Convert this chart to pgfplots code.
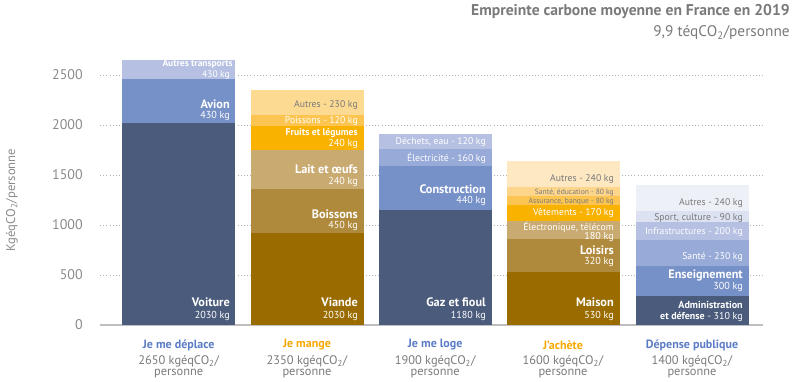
\documentclass[border=0pt]{standalone}
\usepackage{pgfplots}
\pgfplotsset{compat=1.18}
\usepackage{fontspec}
\setmainfont{PT Sans}
\definecolor{bA}{HTML}{4B5B7C}
\definecolor{bB}{HTML}{7690C8}
\definecolor{bC}{HTML}{98AAD8}
\definecolor{bD}{HTML}{B5C0E2}
\definecolor{bE}{HTML}{DDE2F2}
\definecolor{bF}{HTML}{EEF0F8}
\definecolor{gA}{HTML}{9A6C00}
\definecolor{gB}{HTML}{B08A3C}
\definecolor{gC}{HTML}{C9AB72}
\definecolor{gD}{HTML}{F9B200}
\definecolor{gE}{HTML}{FCC551}
\definecolor{gF}{HTML}{FDD68C}
\definecolor{gG}{HTML}{FDDA92}
\definecolor{gH}{HTML}{FDE8C2}
\definecolor{txtgray}{HTML}{7A7A7A}
\definecolor{tickgray}{HTML}{8A8A8A}
\definecolor{catblue}{HTML}{5B7CC6}
\definecolor{catorange}{HTML}{F7A800}
\begin{document}
\begin{tikzpicture}[
  big/.style={anchor=east, inner sep=0pt, text=white, font=\fontsize{9.2}{10}\selectfont\bfseries},
  kg/.style={anchor=east, inner sep=0pt, text=white, font=\fontsize{7.6}{8}\selectfont},
  sm/.style={anchor=east, inner sep=0pt, text=white, font=\fontsize{7.3}{8}\selectfont},
  smg/.style={sm, text=txtgray},
  tiny/.style={anchor=east, inner sep=0pt, text=txtgray, font=\fontsize{5.7}{6}\selectfont},
  cat/.style={anchor=center, inner sep=0pt, font=\fontsize{9}{10}\selectfont\bfseries},
  tot/.style={anchor=center, inner sep=0pt, text=txtgray, font=\fontsize{9.3}{10}\selectfont},
]
\begin{axis}[
  at={(0,0)}, anchor=south west,
  set layers=standard,
  scale only axis, width=497.25pt, height=202.5pt,
  xmin=100, xmax=763, ymin=0, ymax=2700,
  ybar stacked, bar width=113,
  axis line style={draw=none},
  xtick=\empty,
  ytick={500,1000,1500,2000,2500},
  extra y ticks={0},
  extra y tick style={grid style={solid, draw=black!25, line width=0.8pt}},
  ymajorgrids, grid style={dotted, draw=black!30, line width=0.55pt},
  major tick length=0pt,
  yticklabel style={font=\fontsize{10.5}{11}\selectfont, text=tickgray, anchor=east, inner sep=0pt, xshift=-12.75pt},
  /pgf/number format/assume math mode=true,
  /pgf/number format/set thousands separator={},
  clip=false,
]
% Je me deplace
\addplot[on layer=pre main, fill=bA, draw=none] coordinates {(178.7,2020) (307,0) (435.2,0) (563,0) (692,0)};
\addplot[on layer=pre main, fill=bB, draw=none] coordinates {(178.7,440) (307,0) (435.2,0) (563,0) (692,0)};
\addplot[on layer=pre main, fill=bD, draw=none] coordinates {(178.7,190) (307,0) (435.2,0) (563,0) (692,0)};
% Je mange
\addplot[on layer=pre main, fill=gA, draw=none] coordinates {(178.7,0) (307,920) (435.2,0) (563,0) (692,0)};
\addplot[on layer=pre main, fill=gB, draw=none] coordinates {(178.7,0) (307,435) (435.2,0) (563,0) (692,0)};
\addplot[on layer=pre main, fill=gC, draw=none] coordinates {(178.7,0) (307,395) (435.2,0) (563,0) (692,0)};
\addplot[on layer=pre main, fill=gD, draw=none] coordinates {(178.7,0) (307,235) (435.2,0) (563,0) (692,0)};
\addplot[on layer=pre main, fill=gE, draw=none] coordinates {(178.7,0) (307,115) (435.2,0) (563,0) (692,0)};
\addplot[on layer=pre main, fill=gG, draw=none] coordinates {(178.7,0) (307,250) (435.2,0) (563,0) (692,0)};
% Je me loge
\addplot[on layer=pre main, fill=bA, draw=none] coordinates {(178.7,0) (307,0) (435.2,1145) (563,0) (692,0)};
\addplot[on layer=pre main, fill=bB, draw=none] coordinates {(178.7,0) (307,0) (435.2,440) (563,0) (692,0)};
\addplot[on layer=pre main, fill=bC, draw=none] coordinates {(178.7,0) (307,0) (435.2,175) (563,0) (692,0)};
\addplot[on layer=pre main, fill=bD, draw=none] coordinates {(178.7,0) (307,0) (435.2,145) (563,0) (692,0)};
% J'achete
\addplot[on layer=pre main, fill=gA, draw=none] coordinates {(178.7,0) (307,0) (435.2,0) (563,525) (692,0)};
\addplot[on layer=pre main, fill=gB, draw=none] coordinates {(178.7,0) (307,0) (435.2,0) (563,335) (692,0)};
\addplot[on layer=pre main, fill=gC, draw=none] coordinates {(178.7,0) (307,0) (435.2,0) (563,175) (692,0)};
\addplot[on layer=pre main, fill=gD, draw=none] coordinates {(178.7,0) (307,0) (435.2,0) (563,160) (692,0)};
\addplot[on layer=pre main, fill=gE, draw=none] coordinates {(178.7,0) (307,0) (435.2,0) (563,90) (692,0)};
\addplot[on layer=pre main, fill=gF, draw=none] coordinates {(178.7,0) (307,0) (435.2,0) (563,90) (692,0)};
\addplot[on layer=pre main, fill=gH, draw=none] coordinates {(178.7,0) (307,0) (435.2,0) (563,260) (692,0)};
% Depense publique
\addplot[on layer=pre main, fill=bA, draw=none] coordinates {(178.7,0) (307,0) (435.2,0) (563,0) (692,290)};
\addplot[on layer=pre main, fill=bB, draw=none] coordinates {(178.7,0) (307,0) (435.2,0) (563,0) (692,295)};
\addplot[on layer=pre main, fill=bC, draw=none] coordinates {(178.7,0) (307,0) (435.2,0) (563,0) (692,260)};
\addplot[on layer=pre main, fill=bD, draw=none] coordinates {(178.7,0) (307,0) (435.2,0) (563,0) (692,185)};
\addplot[on layer=pre main, fill=bE, draw=none] coordinates {(178.7,0) (307,0) (435.2,0) (563,0) (692,105)};
\addplot[on layer=pre main, fill=bF, draw=none] coordinates {(178.7,0) (307,0) (435.2,0) (563,0) (692,265)};

% labels bar 1
\node[anchor=east, inner sep=0pt, text=white, font=\fontsize{7.1}{8}\selectfont\bfseries] at (axis cs:233,2605) {Autres transports};
\node[kg, font=\fontsize{7.1}{8}\selectfont] at (axis cs:230,2500) {430 kg};
\node[big] at (axis cs:230,2210) {Avion};
\node[kg] at (axis cs:230,2090) {430 kg};
\node[big] at (axis cs:230,228) {Voiture};
\node[kg] at (axis cs:230,95) {2030 kg};
% labels bar 2
\node[smg] at (axis cs:358,2200) {Autres - 230 kg};
\node[sm] at (axis cs:358,2043) {Poissons - 120 kg};
\node[sm, font=\fontsize{7.3}{8}\selectfont\bfseries] at (axis cs:358,1915) {Fruits et légumes};
\node[kg] at (axis cs:358,1815) {240 kg};
\node[big] at (axis cs:358,1555) {Lait et œufs};
\node[kg] at (axis cs:358,1435) {240 kg};
\node[big] at (axis cs:358,1110) {Boissons};
\node[kg] at (axis cs:358,990) {450 kg};
\node[big] at (axis cs:358,228) {Viande};
\node[kg] at (axis cs:358,95) {2030 kg};
% labels bar 3
\node[sm] at (axis cs:486,1833) {Déchets, eau - 120 kg};
\node[sm] at (axis cs:486,1670) {Électricité - 160 kg};
\node[big] at (axis cs:486,1355) {Construction};
\node[kg] at (axis cs:486,1238) {440 kg};
\node[big] at (axis cs:486,228) {Gaz et fioul};
\node[kg] at (axis cs:486,95) {1180 kg};
% labels bar 4
\node[smg] at (axis cs:614,1457) {Autres - 240 kg};
\node[tiny] at (axis cs:614,1327) {Santé, éducation - 80 kg};
\node[tiny] at (axis cs:614,1230) {Assurance, banque - 80 kg};
\node[sm] at (axis cs:614,1125) {Vêtements - 170 kg};
\node[sm] at (axis cs:614,980) {Électronique, télécom};
\node[kg] at (axis cs:614,885) {180 kg};
\node[big] at (axis cs:614,750) {Loisirs};
\node[kg] at (axis cs:614,633) {320 kg};
\node[big] at (axis cs:614,228) {Maison};
\node[kg] at (axis cs:614,95) {530 kg};
% labels bar 5
\node[smg] at (axis cs:743,1223) {Autres - 240 kg};
\node[smg] at (axis cs:743,1073) {Sport, culture - 90 kg};
\node[sm] at (axis cs:743,927) {Infrastructures - 200 kg};
\node[sm] at (axis cs:743,683) {Santé - 230 kg};
\node[big] at (axis cs:743,495) {Enseignement};
\node[kg] at (axis cs:743,376) {300 kg};
\node[big, font=\fontsize{7.6}{8}\selectfont\bfseries] at (axis cs:743,197) {Administration};
\node[sm, font=\fontsize{7.5}{8}\selectfont] at (axis cs:743,83) {\textbf{et défense} - 310 kg};

% categories
\node[cat, text=catblue] at (axis cs:178.7,-200) {Je me déplace};
\node[tot] at (axis cs:178.7,-360) {2650 kgéqCO\textsubscript{2}/};
\node[tot] at (axis cs:178.7,-490) {personne};
\node[cat, text=catorange] at (axis cs:307,-200) {Je mange};
\node[tot] at (axis cs:307,-360) {2350 kgéqCO\textsubscript{2}/};
\node[tot] at (axis cs:307,-490) {personne};
\node[cat, text=catblue] at (axis cs:435.2,-200) {Je me loge};
\node[tot] at (axis cs:435.2,-360) {1900 kgéqCO\textsubscript{2}/};
\node[tot] at (axis cs:435.2,-490) {personne};
\node[cat, text=catorange] at (axis cs:563,-200) {J'achète};
\node[tot] at (axis cs:563,-360) {1600 kgéqCO\textsubscript{2}/};
\node[tot] at (axis cs:563,-490) {personne};
\node[cat, text=catblue] at (axis cs:692,-200) {Dépense publique};
\node[tot] at (axis cs:692,-360) {1400 kgéqCO\textsubscript{2}/};
\node[tot] at (axis cs:692,-490) {personne};

% titles
\node[anchor=east, inner sep=0pt, text=txtgray, font=\fontsize{11.7}{12}\selectfont\bfseries] at (axis cs:790,3130) {Empreinte carbone moyenne en France en 2019};
\node[anchor=east, inner sep=0pt, text=txtgray, font=\fontsize{11.5}{12}\selectfont] at (axis cs:790,2920) {9,9 téqCO\textsubscript{2}/personne};
% y label
\node[rotate=90, inner sep=0pt, text=tickgray, font=\fontsize{9.5}{10}\selectfont] at (axis cs:12,1250) {KgéqCO\textsubscript{2}/personne};

\coordinate (bl) at (axis cs:0,-570);
\coordinate (tr) at (axis cs:800,3250);
\end{axis}
\pgfresetboundingbox
\path (bl) rectangle (tr);
\end{tikzpicture}
\end{document}
